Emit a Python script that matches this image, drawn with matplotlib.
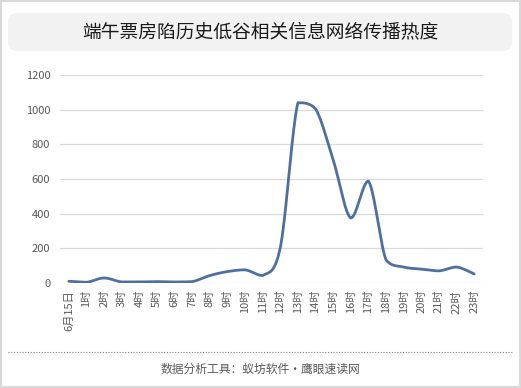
import numpy as np
import matplotlib
matplotlib.use("Agg")
import matplotlib.pyplot as plt
from matplotlib.patches import FancyBboxPatch, Rectangle

plt.rcParams["font.family"] = ["Noto Sans CJK SC", "DejaVu Sans"]
plt.rcParams["axes.unicode_minus"] = False

labels = ["6月15日"] + [f"{h}时" for h in range(1, 24)]
heat = [10, 4, 29, 6, 6, 8, 6, 8, 43, 66, 76, 43,
        205, 1040, 1005, 710, 375, 588, 133, 92, 80, 70, 92, 52]

title = "端午票房陷历史低谷相关信息网络传播热度"
footer = "数据分析工具：蚁坊软件·鹰眼速读网"


def smooth(xs, ys, n=20):
    # Excel 风格平滑线（贝塞尔，控制点限制在相邻两点之间，避免过冲）
    xs = np.asarray(xs, float); ys = np.asarray(ys, float)
    px = np.concatenate([[xs[0]], xs, [xs[-1]]])
    py = np.concatenate([[ys[0]], ys, [ys[-1]]])
    ox, oy = [], []
    t = np.linspace(0, 1, n, endpoint=False)
    for i in range(1, len(px) - 2):
        lo, hi = min(py[i], py[i + 1]), max(py[i], py[i + 1])
        p0 = np.array([px[i], py[i]]); p3 = np.array([px[i + 1], py[i + 1]])
        c1 = p0 + (np.array([px[i + 1], py[i + 1]]) - np.array([px[i - 1], py[i - 1]])) / 6
        c2 = p3 - (np.array([px[i + 2], py[i + 2]]) - np.array([px[i], py[i]])) / 6
        c1[1] = np.clip(c1[1], lo, hi); c2[1] = np.clip(c2[1], lo, hi)
        b = ((1 - t) ** 3)[:, None] * p0 + (3 * (1 - t) ** 2 * t)[:, None] * c1 \
            + (3 * (1 - t) * t ** 2)[:, None] * c2 + (t ** 3)[:, None] * p3
        ox.extend(b[:, 0]); oy.extend(b[:, 1])
    ox.append(xs[-1]); oy.append(ys[-1])
    return np.array(ox), np.array(oy)


fig = plt.figure(figsize=(5.21, 3.88), dpi=100)
fig.patches.append(Rectangle((0.002, 0.002), 0.996, 0.996, transform=fig.transFigure,
                             fill=False, ec="#d9d9d9", lw=1.5))
fig.patches.append(FancyBboxPatch((8 / 521, 1 - 51 / 388), 504 / 521, 38 / 388,
                                  boxstyle="round,pad=0,rounding_size=0.018",
                                  transform=fig.transFigure, fc="#f2f2f2", ec="none",
                                  mutation_aspect=521 / 388))
fig.text(0.5, 1 - 32 / 388, title, ha="center", va="center", fontsize=13.5, color="#1a1a1a")

ax = fig.add_axes([60 / 521, 1 - 283 / 388, 423 / 521, 208 / 388])
x = np.arange(len(heat))
sx, sy = smooth(x, heat)
ax.plot(sx, sy, color="#4f6fa0", lw=2, solid_capstyle="round", zorder=3)
ax.set_xlim(-0.5, len(heat) - 0.5)
ax.set_ylim(0, 1200)
ax.set_yticks(range(0, 1201, 200))
ax.set_xticks(x)
ax.set_xticklabels(labels, rotation=90, fontsize=8, color="#595959")
ax.tick_params(axis="y", labelsize=8, labelcolor="#595959", length=0, pad=7)
ax.tick_params(axis="x", length=0, pad=5)
ax.grid(axis="y", color="#d9d9d9", lw=0.9)
ax.set_axisbelow(True)
for s in ax.spines.values():
    s.set_visible(False)

fig.add_artist(plt.Line2D([8 / 521, 513 / 521], [1 - 352 / 388] * 2, transform=fig.transFigure,
                          color="#7f7f7f", lw=0.8, ls=(0, (1, 1.5))))
fig.text(0.5, 1 - 369 / 388, footer, ha="center", va="center", fontsize=8.5, color="#595959")

fig.savefig("out.png", dpi=100)
